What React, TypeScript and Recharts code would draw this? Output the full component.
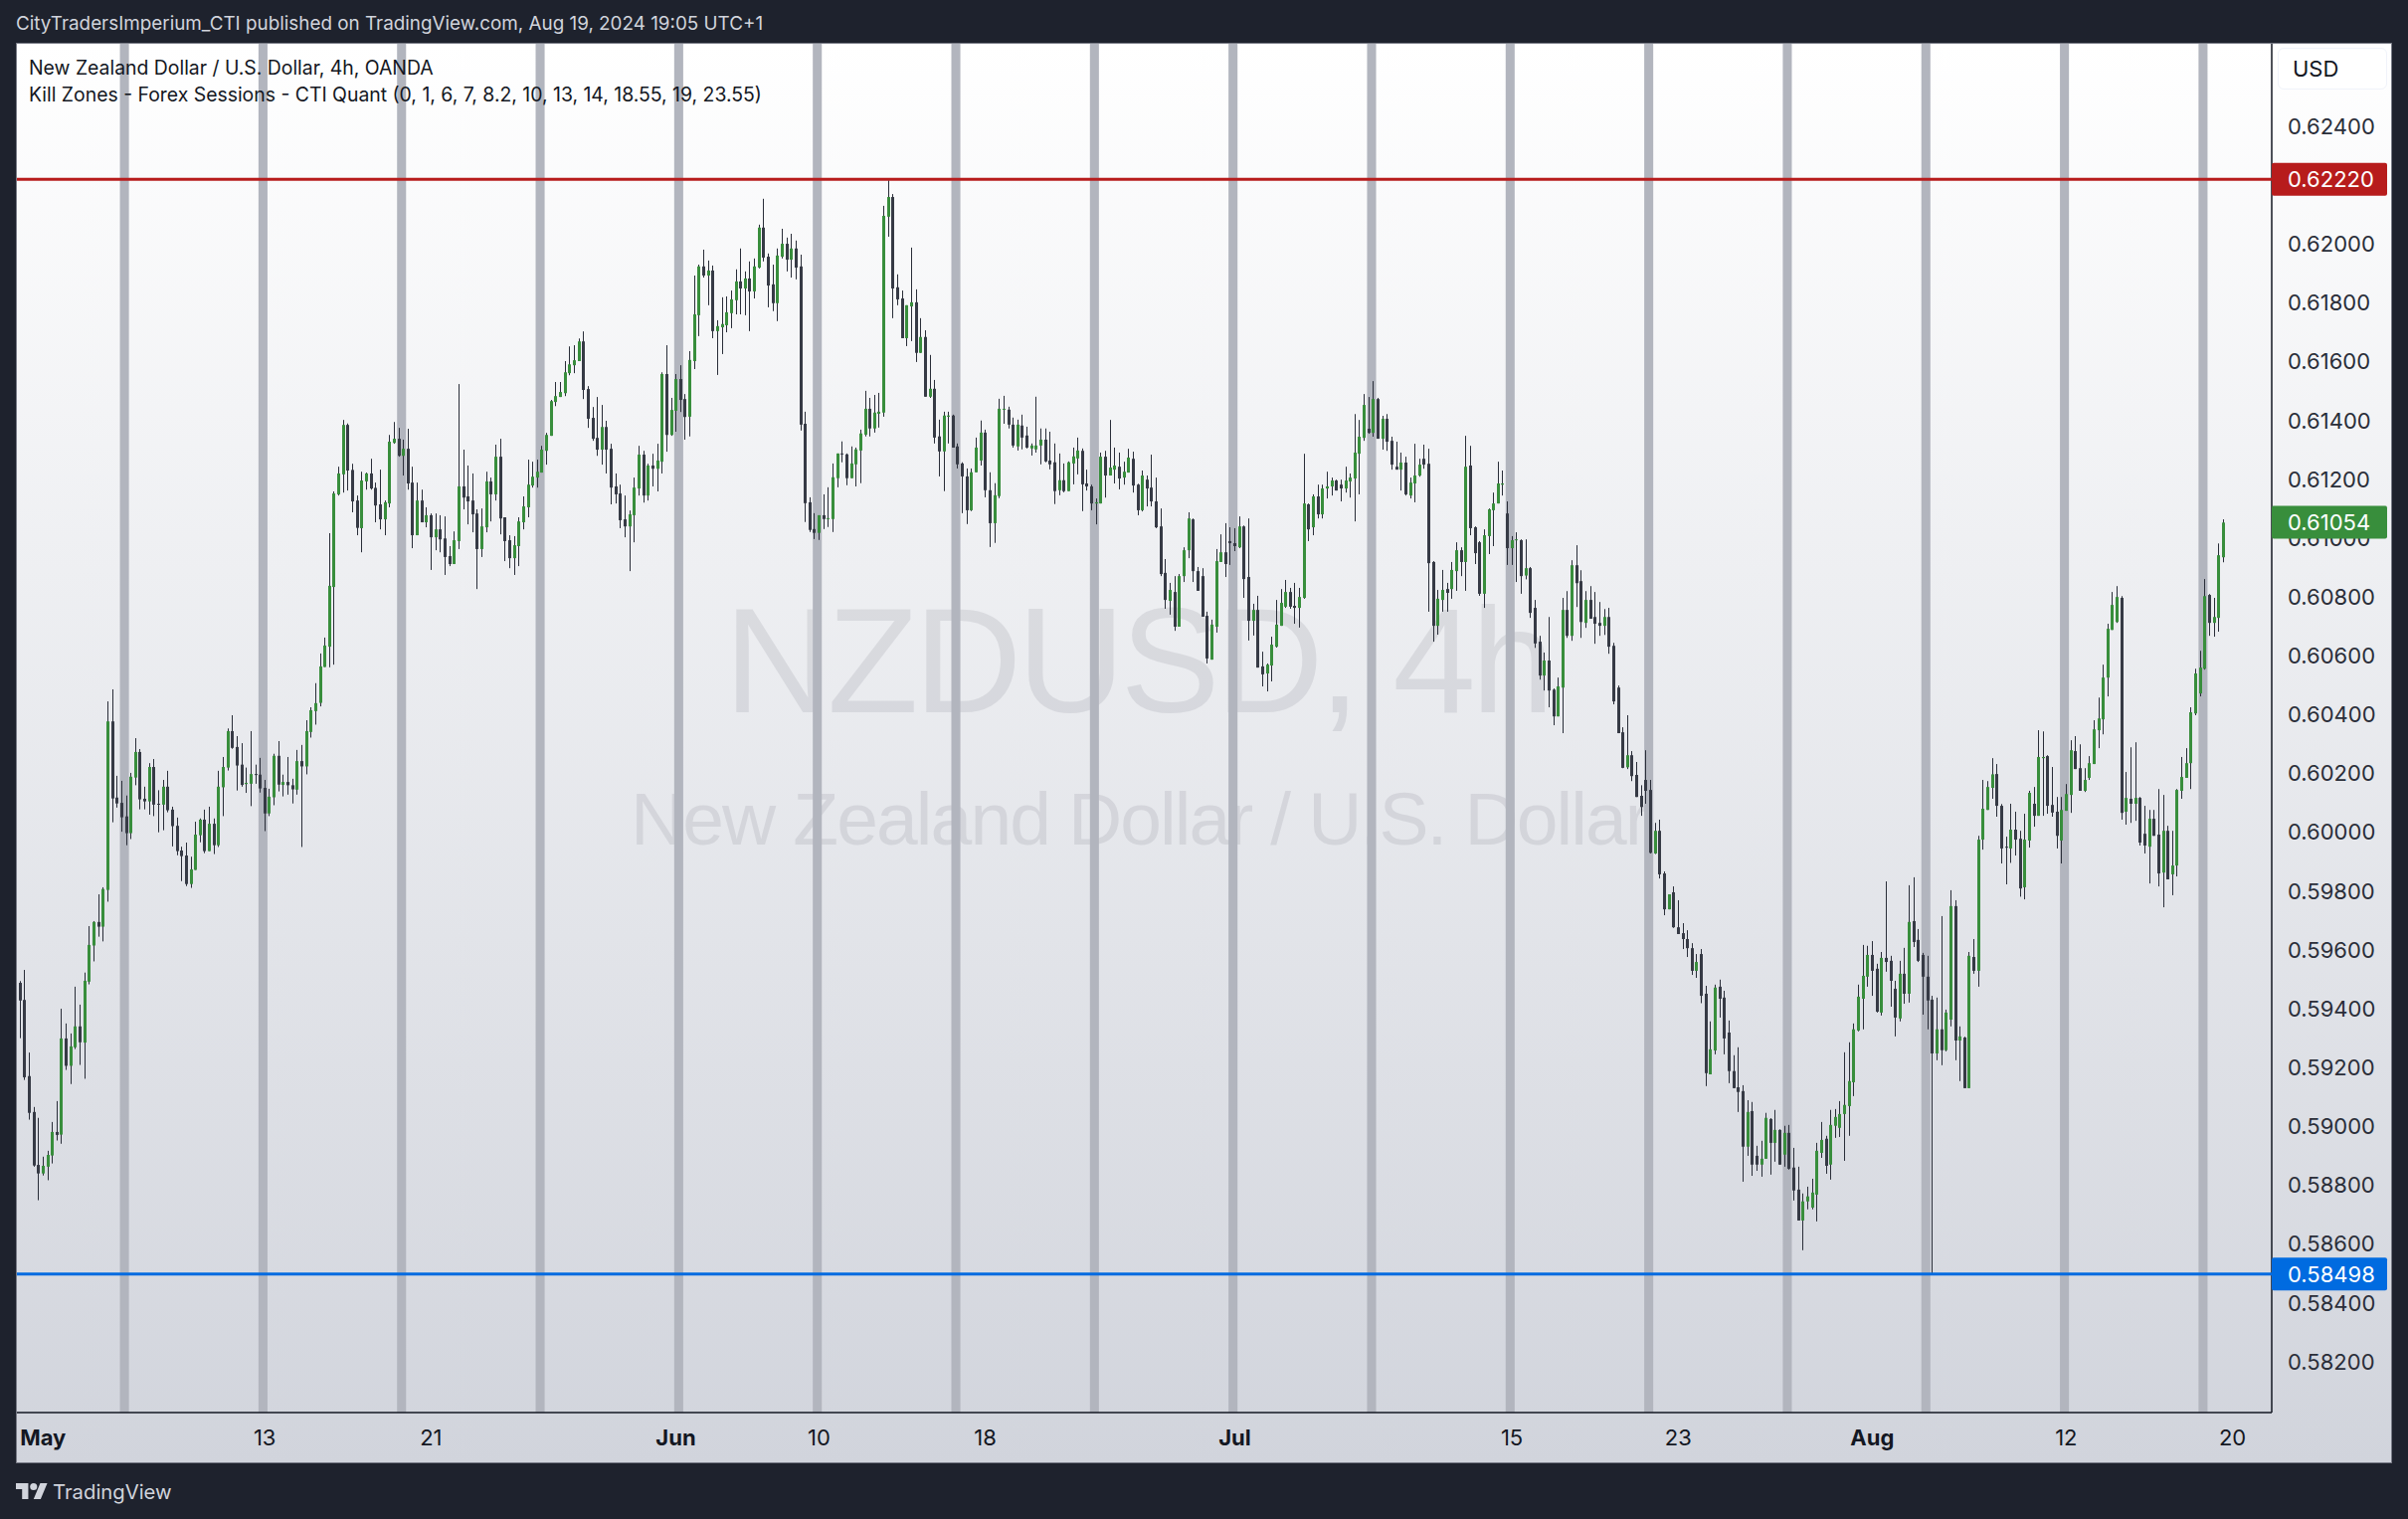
import React from 'react';
import { ComposedChart, Bar, XAxis, YAxis, ReferenceArea, ReferenceLine } from 'recharts';

// 4h NZDUSD candles, one list per trading week, rows are [open, high, low, close] in 1/100000
const weekApr29 = [
  [59488,59494,59300,59428],[59430,59532,59158,59167],[59171,59251,59023,59046],[59049,59066,58863,58867],[58869,59029,58749,58840],
  [58840,58897,58833,58866],[58863,58917,58817,58903],[58901,59015,58874,58981],[58981,59086,58952,58971],[58972,59400,58941,59299],
  [59299,59350,59192,59206],[59206,59316,59144,59272],[59269,59475,59263,59340],[59340,59414,59209,59286],[59285,59523,59162,59495],
  [59492,59681,59483,59617],[59615,59698,59561,59695],[59695,59789,59645,59679],[59679,59813,59629,59807],[59804,60445,59764,60377],
  [60377,60486,60034,60115],[60118,60192,60084,60098],[60100,60175,60002,60051],
];
const weekMay06 = [
  [60054,60125,59956,59997],[59997,60202,59977,60189],[60186,60320,60160,60273],[60273,60283,60078,60112],[60114,60155,60078,60105],
  [60105,60235,60060,60222],[60222,60249,60055,60094],[60097,60143,60000,60094],[60094,60178,60007,60155],[60155,60209,60068,60075],
  [60077,60087,59952,60021],[60022,60050,59922,59936],[59938,59951,59834,59919],[59921,59965,59817,59824],[59824,59917,59811,59874],
  [59872,60036,59872,59992],[59990,60047,59966,60043],[60043,60077,59929,59936],[59936,60087,59936,60029],[60029,60047,59926,59956],
  [59956,60209,59950,60155],[60153,60256,60055,60222],[60220,60353,60210,60344],[60344,60398,60284,60287],[60290,60327,60142,60227],
  [60230,60303,60155,60161],[60164,60220,60134,60168],[60165,60344,60089,60198],[60198,60230,60165,60196],[60196,60253,60135,60149],
];
const weekMay13 = [
  [60151,60178,60004,60064],[60064,60148,60055,60121],[60119,60267,60092,60260],[60260,60310,60139,60162],[60161,60196,60122,60171],
  [60171,60256,60128,60160],[60160,60182,60098,60146],[60145,60280,60128,60242],[60242,60297,59950,60224],[60224,60381,60197,60344],
  [60341,60425,60322,60415],[60412,60507,60366,60439],[60440,60608,60428,60564],[60562,60662,60562,60635],[60631,61017,60561,60838],
  [60834,61159,60570,61152],[61149,61243,61145,61220],[61217,61402,61155,61385],[61385,61390,61162,61230],[61232,61253,61088,61125],
  [61128,61145,61010,61035],[61034,61226,60952,61196],[61193,61223,61165,61220],[61220,61270,61165,61169],[61171,61189,61054,61111],
  [61115,61233,61030,61064],[61064,61128,61010,61122],[61118,61351,61105,61328],[61324,61395,61321,61338],[61338,61375,61277,61280],
];
const weekMay20 = [
  [61280,61335,61213,61304],[61304,61372,61165,61186],[61189,61243,60966,61010],[61010,61189,61010,61128],[61128,61165,61054,61054],
  [61054,61105,61037,61078],[61078,61084,60892,61003],[61003,61084,60959,61030],[61030,61078,60952,60996],[60999,61074,60875,60936],
  [60939,60973,60905,60912],[60912,61023,60912,60993],[60990,61524,60963,61176],[61176,61301,61098,61138],[61142,61247,61047,61125],
  [61128,61220,61020,61081],[61084,61098,60827,60963],[60963,61101,60936,61040],[61037,61226,61020,61193],[61193,61206,61057,61149],
  [61149,61318,61128,61277],[61277,61338,61013,61067],[61071,61071,60922,60990],[60993,61010,60898,60932],[60932,61007,60875,60976],
  [60973,61071,60905,61057],[61054,61142,61030,61108],[61105,61267,61071,61182],[61179,61260,61172,61209],[61206,61267,61172,61226],
];
const weekMay27 = [
  [61223,61314,61223,61301],[61297,61358,61250,61351],[61348,61470,61348,61466],[61463,61531,61449,61483],[61480,61531,61480,61497],
  [61493,61602,61483,61564],[61561,61652,61554,61591],[61588,61656,61561,61605],[61602,61679,61602,61669],[61669,61703,61473,61504],
  [61507,61517,61375,61406],[61409,61446,61331,61338],[61341,61480,61280,61301],[61301,61453,61250,61378],[61378,61399,61220,61301],
  [61304,61321,61115,61172],[61176,61220,61118,61149],[61152,61182,61034,61061],[61064,61145,61003,61040],[61040,61094,60888,61081],
  [61078,61206,60986,61172],[61169,61314,61145,61284],[61284,61297,61121,61145],[61145,61253,61128,61247],[61247,61287,61176,61236],
  [61236,61321,61159,61264],[61260,61564,61220,61558],[61558,61656,61294,61351],[61351,61477,61348,61436],[61433,61558,61362,61541],
];
const weekJun03 = [
  [61541,61588,61429,61470],[61473,61490,61335,61412],[61413,61636,61346,61606],[61602,61893,61575,61761],[61758,61930,61687,61924],
  [61924,61981,61886,61893],[61893,61944,61792,61910],[61910,61927,61680,61704],[61704,61741,61555,61721],[61717,61819,61626,61728],
  [61724,61822,61700,61768],[61765,61842,61714,61812],[61809,61914,61761,61873],[61873,61985,61761,61849],[61849,61907,61758,61883],
  [61883,61941,61704,61839],[61839,61951,61815,61924],[61920,62066,61917,62056],[62056,62154,61941,61954],[61957,61968,61785,61859],
  [61863,61930,61772,61799],[61799,61985,61738,61961],[61957,62052,61951,62001],[62001,62022,61907,61947],[61947,62035,61886,61985],
  [61985,62012,61880,61920],[61924,61964,61366,61386],[61389,61430,61055,61119],[61122,61139,61021,61028],[61031,61085,60997,61018],
];
const weekJun10 = [
  [61018,61078,60994,61078],[61078,61149,61031,61065],[61065,61173,61038,61068],[61065,61254,61021,61207],[61204,61288,61173,61288],
  [61288,61329,61258,61285],[61285,61288,61180,61204],[61204,61312,61204,61254],[61251,61308,61176,61302],[61298,61369,61187,61356],
  [61352,61501,61346,61440],[61440,61477,61346,61373],[61373,61487,61359,61427],[61423,61494,61376,61430],[61427,62130,61413,62096],
  [62093,62217,62025,62160],[62160,62170,61748,61849],[61853,61897,61792,61812],[61815,61842,61680,61680],[61680,61792,61653,61792],
  [61788,61988,61670,61802],[61802,61846,61599,61630],[61630,61748,61630,61684],[61684,61707,61481,61481],[61481,61623,61477,61508],
  [61508,61538,61322,61342],[61346,61403,61210,61295],[61295,61430,61160,61417],[61413,61430,61322,61417],[61417,61420,61308,61308],
];
const weekJun17 = [
  [61312,61322,61237,61251],[61254,61258,61085,61210],[61210,61237,61048,61095],[61095,61237,61092,61224],[61224,61342,61224,61308],
  [61264,61400,61247,61359],[61359,61369,61139,61163],[61163,61224,60970,61051],[61051,61187,60984,61146],[61143,61474,61136,61440],
  [61437,61484,61389,61440],[61437,61447,61373,61386],[61386,61410,61308,61315],[61312,61403,61298,61386],[61383,61420,61302,61342],
  [61349,61379,61305,61308],[61305,61322,61281,61315],[61302,61481,61291,61315],[61315,61373,61251,61335],[61335,61373,61258,61261],
  [61264,61362,61234,61251],[61258,61322,61116,61160],[61163,61288,61146,61197],[61197,61254,61156,61160],[61160,61261,61160,61258],
  [61254,61308,61183,61278],[61271,61342,61217,61298],[61297,61305,61092,61183],[61186,61233,61162,61176],[61176,61182,61095,61118],
];
const weekJun24 = [
  [61118,61135,61047,61122],[61118,61291,61118,61277],[61277,61297,61138,61213],[61213,61402,61213,61240],[61233,61308,61186,61247],
  [61243,61291,61166,61203],[61206,61260,61182,61226],[61223,61304,61223,61274],[61270,61294,61155,61179],[61182,61185,61078,61095],
  [61095,61230,61091,61213],[61199,61213,61108,61169],[61172,61284,61108,61125],[61125,61206,61034,61037],[61040,61101,60871,60878],
  [60882,60929,60760,60790],[60787,60848,60740,60824],[60817,60871,60685,60699],[60699,60878,60699,60871],[60871,60969,60851,60959],
  [60959,61088,60932,61067],[61064,61067,60851,60888],[60888,60902,60821,60821],[60871,60898,60733,60733],[60736,60750,60574,60591],
  [60587,60723,60587,60706],[60699,60963,60679,60922],[60919,61013,60919,60952],[60952,61051,60868,60912],[60990,61037,60909,60983],
];
const weekJul01 = [
  [60983,61034,60956,60973],[60969,61074,60966,61040],[61040,61043,60797,60861],[60868,61067,60652,60719],[60719,60777,60669,60756],
  [60756,60804,60560,60560],[60564,60614,60496,60537],[60540,60574,60479,60570],[60567,60665,60513,60638],[60631,60790,60628,60706],
  [60702,60827,60702,60780],[60767,60858,60763,60817],[60817,60831,60760,60767],[60770,60848,60709,60763],[60763,60831,60696,60800],
  [60797,61287,60794,61118],[61115,61118,60990,61030],[61037,61149,61010,61142],[61142,61182,61067,61081],[61081,61182,61067,61169],
  [61169,61226,61135,61176],[61176,61206,61145,61196],[61196,61199,61162,61162],[61182,61199,61125,61169],[61169,61243,61155,61196],
  [61193,61220,61138,61206],[61203,61422,61057,61291],[61287,61402,61149,61345],[61341,61490,61331,61453],[61372,61480,61355,61358],
];
const weekJul08 = [
  [61358,61534,61345,61473],[61473,61477,61338,61338],[61338,61416,61301,61406],[61406,61422,61297,61328],[61331,61345,61233,61250],
  [61243,61328,61233,61233],[61233,61291,61162,61257],[61257,61277,61145,61149],[61145,61206,61135,61189],[61186,61321,61122,61213],
  [61213,61270,61209,61250],[61270,61318,61236,61250],[61253,61304,60750,60915],[60919,60922,60648,60702],[60702,60824,60672,60794],
  [60790,60892,60750,60824],[60827,60848,60750,60814],[60827,60919,60794,60892],[60888,60986,60821,60959],[60959,60969,60871,60919],
  [60919,61348,60821,61243],[61247,61314,61010,61034],[61037,61040,60912,60949],[60986,60990,60804,60811],[60811,61030,60763,61010],
  [61007,61101,60946,61098],[61095,61155,60973,61118],[61118,61260,61118,61186],[61182,61230,61145,61186],
];
const weekJul15 = [
  [61084,61125,60909,60966],[60966,61007,60909,60993],[60993,61020,60851,60996],[60993,60996,60811,60871],[60873,60996,60860,60898],
  [60898,60902,60729,60746],[60763,60790,60627,60642],[60648,60668,60519,60533],[60533,60611,60482,60584],[60584,60732,60425,60482],
  [60485,60489,60364,60394],[60394,60526,60394,60496],[60492,60797,60337,60756],[60756,60820,60661,60668],[60668,60925,60651,60908],
  [60908,60976,60766,60847],[60854,60891,60661,60715],[60712,60820,60695,60790],[60790,60837,60726,60726],[60732,60817,60641,60709],
  [60712,60783,60668,60702],[60702,60759,60671,60732],[60732,60763,60607,60631],[60634,60644,60435,60445],[60492,60499,60337,60337],
  [60340,60357,60218,60219],[60221,60398,60215,60262],[60262,60276,60174,60191],[60195,60239,60120,60120],[60124,60160,60056,60086],
];
const weekJul22 = [
  [60178,60279,60097,60141],[60144,60178,59928,59930],[59928,60032,59926,60005],[60005,60043,59843,59857],[59860,59867,59718,59738],
  [59738,59789,59738,59789],[59796,59816,59675,59677],[59677,59769,59654,59654],[59657,59691,59603,59637],[59637,59667,59576,59606],
  [59606,59623,59515,59529],[59529,59586,59505,59559],[59586,59603,59419,59444],[59451,59478,59137,59181],[59177,59357,59177,59262],
  [59258,59482,59245,59472],[59475,59499,59370,59434],[59438,59461,59245,59299],[59319,59360,59147,59188],[59188,59242,59130,59130],
  [59133,59269,59049,59117],[59120,59140,58812,58931],[58931,59089,58900,59049],[59052,59083,58832,58870],[58900,58934,58849,58870],
  [58870,58951,58829,58890],[58890,59046,58890,59029],[59025,59028,58836,58944],[58944,59056,58880,58988],[58988,58990,58870,58870],
];
const weekJul29 = [
  [58904,59002,58863,58978],[58978,59005,58853,58856],[58860,58927,58748,58782],[58785,58863,58680,58680],[58680,58772,58579,58745],
  [58745,58795,58718,58762],[58724,58822,58718,58775],[58768,58944,58677,58917],[58910,59015,58893,58954],[58958,58968,58839,58866],
  [58870,59056,58819,59005],[59002,59059,58961,59032],[58995,59086,58964,59042],[59042,59252,58883,59073],[59069,59286,58968,59154],
  [59150,59350,59103,59330],[59326,59482,59323,59441],[59434,59617,59330,59512],[59509,59614,59475,59583],[59583,59630,59444,59529],
  [59536,59553,59387,59390],[59387,59593,59377,59573],[59573,59833,59526,59559],[59563,59580,59407,59495],[59468,59495,59306,59370],
  [59367,59563,59357,59519],[59519,59607,59417,59451],[59451,59820,59421,59695],[59698,59847,59610,59627],[59634,59671,59559,59563],
];
const weekAug05 = [
  [59583,59590,59380,59509],[59509,59580,59330,59428],[59431,59444,58498,59248],[59248,59438,59225,59330],[59330,59715,59208,59259],
  [59259,59397,59255,59387],[59363,59803,59340,59749],[59749,59769,59225,59292],[59292,59340,59154,59306],[59302,59305,59130,59130],
  [59130,59593,59130,59580],[59576,59637,59519,59529],[59529,59988,59475,59975],[59975,60178,59941,60080],[60076,60174,60076,60154],
  [60151,60252,60114,60197],[60198,60232,60053,60090],[60090,60096,59894,59945],[59951,59985,59823,59948],[59945,60097,59896,60009],
  [60009,60070,59921,59975],[59978,60005,59781,59809],[59813,60063,59772,59975],[59972,60141,59948,60134],[60097,60154,60019,60056],
  [60056,60347,60056,60256],[60252,60343,60056,60256],[60259,60262,60063,60090],[60093,60222,60053,60067],[60070,60120,59945,59988],
];
const weekAug12 = [
  [59972,60120,59894,60076],[60073,60164,60073,60130],[60127,60313,60066,60279],[60276,60327,60215,60215],[60218,60299,60141,60141],
  [60141,60218,60137,60178],[60185,60259,60178,60235],[60232,60381,60232,60350],[60347,60458,60286,60387],[60384,60570,60333,60526],
  [60526,60709,60462,60692],[60688,60817,60688,60773],[60715,60837,60712,60800],[60797,60803,60043,60066],[60070,60205,60026,60117],
  [60114,60289,60032,60097],[60097,60306,60039,60117],[60117,60120,59955,59965],[59995,60090,59928,59955],[59951,60076,59826,60046],
  [60046,60076,59988,59988],[59992,60147,59816,59860],[59863,60127,59745,60005],[60005,60022,59840,59840],[59857,60005,59786,59887],
  [59887,60147,59850,60144],[60141,60256,60114,60188],[60185,60286,60185,60235],[60235,60425,60147,60408],[60404,60556,60398,60540],
];
const weekAug19 = [
  [60472,60617,60462,60560],[60556,60861,60553,60803],[60807,60810,60668,60712],[60712,60797,60665,60732],[60729,60982,60682,60942],
  [60935,61064,60918,61053],
];

const WEEKS = [weekApr29, weekMay06, weekMay13, weekMay20, weekMay27, weekJun03, weekJun10, weekJun17,
  weekJun24, weekJul01, weekJul08, weekJul15, weekJul22, weekJul29, weekAug05, weekAug12, weekAug19];

const PRICE_TICKS = [0.582, 0.584, 0.586, 0.588, 0.59, 0.592, 0.594, 0.596, 0.598, 0.6, 0.602, 0.604,
  0.606, 0.608, 0.61, 0.612, 0.614, 0.616, 0.618, 0.62, 0.622, 0.624];
const DATE_TICK_BARS = [5, 53, 89, 142, 173, 209, 263, 323, 359, 401, 443, 479];
const DATE_TICK_LABELS = ['May', '13', '21', 'Jun', '10', '18', 'Jul', '15', '23', 'Aug', '12', '20'];
const MONTH_LABELS = ['May', 'Jun', 'Jul', 'Aug'];
// kill zone columns, in bar numbers
const ZONE_STARTS = [21.65, 51.65, 81.65, 111.65, 141.65, 171.65, 201.65, 231.65, 261.65, 291.65, 321.65, 351.65, 381.65, 411.65, 441.65, 471.65];
const ZONE_WIDTH = 1.95;

const HIGH_LINE = 0.6222;
const LOW_LINE = 0.58498;
const LAST_PRICE = 0.61054;

const BAR_DOMAIN = [-0.65, 487.5];
const PRICE_DOMAIN = [0.58027, 0.62681];

const FONT = 'Inter, "Noto Sans", sans-serif';
const UP = '#388e3c';
const DOWN = '#363a45';
const WICK = '#2a2e39';
const RED = '#b71c1c';
const BLUE = '#006be0';

const candles = WEEKS.flat().map((row, idx) => ({
  idx,
  open: row[0] / 100000,
  high: row[1] / 100000,
  low: row[2] / 100000,
  close: row[3] / 100000,
}));

const Candle = (props: any) => {
  const { x, y, width, height, payload } = props;
  const top = Math.min(y, y + height);
  const span = Math.abs(height);
  const perUnit = span / (payload.high - payload.low);
  const bodyTop = top + (payload.high - Math.max(payload.open, payload.close)) * perUnit;
  const bodyBottom = top + (payload.high - Math.min(payload.open, payload.close)) * perUnit;
  const left = Math.round(x + width / 2 - 1.5);
  const up = payload.close >= payload.open;
  return (
    <g>
      <rect x={left + 1} y={top} width={1} height={span} fill={WICK} />
      <rect x={left} y={bodyTop} width={3} height={Math.max(bodyBottom - bodyTop, 1)} fill={up ? UP : DOWN} />
    </g>
  );
};

const PriceTag = ({ viewBox, fill, value }: any) => {
  const right = viewBox.x + viewBox.width;
  return (
    <g>
      <rect x={right} y={viewBox.y - 16.5} width={116} height={33} rx={2} fill={fill} />
      <text x={right + 16} y={viewBox.y + 8} fontFamily={FONT} fontSize={22} fill="#ffffff">
        {value.toFixed(5)}
      </text>
    </g>
  );
};

const DateTick = ({ x, y, payload }: any) => {
  const label = DATE_TICK_LABELS[DATE_TICK_BARS.indexOf(payload.value)];
  return (
    <text x={x} y={y + 25} textAnchor="middle" fontFamily={FONT} fontSize={22}
      fontWeight={MONTH_LABELS.includes(label) ? 700 : 400} fill="#131722">
      {label}
    </text>
  );
};

const App = () => (
  <div style={{ position: 'absolute', left: 0, top: 0, width: 2421, height: 1527, overflow: 'hidden', background: '#1e222d', fontFamily: FONT }}>
    <div style={{ position: 'absolute', left: 16, top: 12, fontSize: 18.85, color: '#d1d4dc', whiteSpace: 'nowrap' }}>
      CityTradersImperium_CTI published on TradingView.com, Aug 19, 2024 19:05 UTC+1
    </div>

    <div style={{ position: 'absolute', left: 16, top: 43, width: 2387, height: 1426, border: '1px solid #787b86', background: 'linear-gradient(#ffffff, #d1d4dc)', overflow: 'hidden' }}>
      <div style={{ position: 'absolute', left: 711, top: 525, fontFamily: '"Liberation Sans"', fontSize: 150, letterSpacing: -4.5, lineHeight: '190px', color: 'rgba(80,84,98,0.12)', whiteSpace: 'nowrap' }}>
        NZDUSD, 4h
      </div>
      <div style={{ position: 'absolute', left: 617, top: 729, fontFamily: '"Liberation Sans"', fontSize: 75, letterSpacing: -1.9, lineHeight: '100px', color: 'rgba(80,84,98,0.12)', whiteSpace: 'nowrap' }}>
        New Zealand Dollar / U.S. Dollar
      </div>
    </div>

    <div style={{ position: 'absolute', left: 0, top: 0 }}>
      <ComposedChart width={2421} height={1527} data={candles} margin={{ top: 44, right: 16, bottom: 57, left: 17 }}>
        <XAxis type="number" dataKey="idx" domain={BAR_DOMAIN} allowDataOverflow ticks={DATE_TICK_BARS}
          height={50} tick={<DateTick />} tickLine={false} axisLine={{ stroke: '#131722', strokeWidth: 1.5 }} />
        <YAxis orientation="right" domain={PRICE_DOMAIN} allowDataOverflow ticks={PRICE_TICKS} interval={0} width={121}
          tickFormatter={(v: number) => v.toFixed(5)} tickSize={0} tickMargin={16}
          tick={{ fontFamily: FONT, fontSize: 22, fill: '#2a2e39', textAnchor: 'start' }}
          tickLine={false} axisLine={{ stroke: '#131722', strokeWidth: 1.5 }} />
        {ZONE_STARTS.map((start) => (
          <ReferenceArea key={start} x1={start} x2={start + ZONE_WIDTH} fill="#b2b5be" fillOpacity={1} stroke="none" />
        ))}
        <Bar dataKey={(d: any) => [d.low, d.high]} barSize={3} shape={<Candle />} isAnimationActive={false} />
      </ComposedChart>
    </div>

    {/* second chart on top so the price tags cover the axis labels */}
    <div style={{ position: 'absolute', left: 0, top: 0 }}>
      <ComposedChart width={2421} height={1527} data={candles} margin={{ top: 44, right: 137, bottom: 107, left: 17 }}>
        <XAxis hide type="number" dataKey="idx" domain={BAR_DOMAIN} allowDataOverflow />
        <YAxis hide domain={PRICE_DOMAIN} allowDataOverflow />
        <ReferenceLine y={HIGH_LINE} stroke={RED} strokeWidth={3} label={<PriceTag fill={RED} value={HIGH_LINE} />} />
        <ReferenceLine y={LOW_LINE} stroke={BLUE} strokeWidth={3} label={<PriceTag fill={BLUE} value={LOW_LINE} />} />
        <ReferenceLine y={LAST_PRICE} stroke="none" label={<PriceTag fill={UP} value={LAST_PRICE} />} />
      </ComposedChart>
    </div>

    <div style={{ position: 'absolute', left: 2290, top: 48, width: 108, height: 40, border: '1px solid #f0f3fa', borderRadius: 6, background: '#ffffff', fontSize: 22, lineHeight: '40px', color: '#131722', textIndent: 14 }}>
      USD
    </div>

    <div style={{ position: 'absolute', left: 29, top: 55, fontSize: 19.4, lineHeight: '27px', color: '#131722', whiteSpace: 'nowrap' }}>
      <div>New Zealand Dollar / U.S. Dollar, 4h, OANDA</div>
      <div>Kill Zones - Forex Sessions - CTI Quant (0, 1, 6, 7, 8.2, 10, 13, 14, 18.55, 19, 23.55)</div>
    </div>

    <svg style={{ position: 'absolute', left: 16, top: 1487 }} width={32} height={22} viewBox="0 0 36 24">
      <path d="M14 22H7V11H0V4h14v18zM28 22h-8l7.5-18h8L28 22z" fill="#d1d4dc" />
      <circle cx={20} cy={8} r={4} fill="#d1d4dc" />
    </svg>
    <div style={{ position: 'absolute', left: 53, top: 1486, fontSize: 20.3, lineHeight: '28px', color: '#d1d4dc' }}>TradingView</div>
  </div>
);

export default App;
